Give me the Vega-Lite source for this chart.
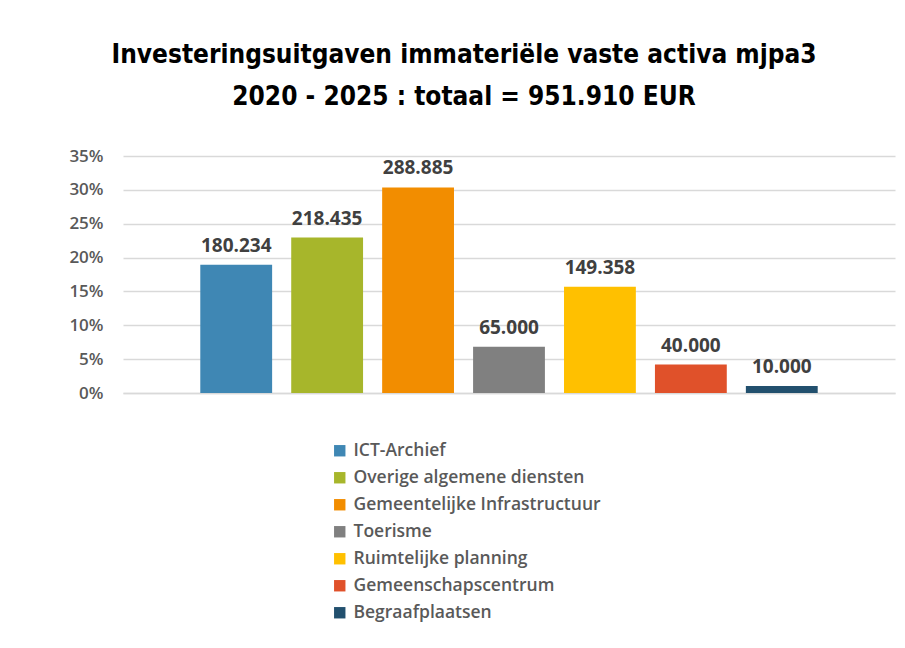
{
  "$schema": "https://vega.github.io/schema/vega-lite/v6.json",
  "width": 772,
  "height": 237,
  "autosize": {"type": "none"},
  "padding": {"left": 123, "top": 156, "right": 10, "bottom": 255},
  "background": "white",
  "config": {
    "locale": {"number": {"decimal": ",", "thousands": ".", "grouping": [3], "currency": ["€", ""]}},
    "view": {"stroke": null},
    "font": "Open Sans"
  },
  "title": {
    "text": ["Investeringsuitgaven immateriële vaste activa mjpa3", "2020 - 2025 : totaal = 951.910 EUR"],
    "font": "DejaVu Sans Condensed, Roboto Condensed, Roboto",
    "fontSize": 26,
    "fontWeight": "bold",
    "color": "#000000",
    "lineHeight": 42,
    "anchor": "middle",
    "dx": -45,
    "offset": 37
  },
  "data": {
    "values": [
      {"categorie": "ICT-Archief", "bedrag": 180234, "aandeel": 0.1893},
      {"categorie": "Overige algemene diensten", "bedrag": 218435, "aandeel": 0.2295},
      {"categorie": "Gemeentelijke Infrastructuur", "bedrag": 288885, "aandeel": 0.3035},
      {"categorie": "Toerisme", "bedrag": 65000, "aandeel": 0.0683},
      {"categorie": "Ruimtelijke planning", "bedrag": 149358, "aandeel": 0.1569},
      {"categorie": "Gemeenschapscentrum", "bedrag": 40000, "aandeel": 0.0420},
      {"categorie": "Begraafplaatsen", "bedrag": 10000, "aandeel": 0.0105}
    ]
  },
  "encoding": {
    "x": {
      "field": "categorie",
      "type": "nominal",
      "sort": null,
      "scale": {"paddingInner": 0.21, "paddingOuter": 0.85},
      "axis": {"title": null, "labels": false, "ticks": false, "domainColor": "#D9D9D9", "domainWidth": 1.5}
    },
    "y": {
      "field": "aandeel",
      "type": "quantitative",
      "scale": {"domain": [0, 0.35], "nice": false},
      "axis": {
        "title": null,
        "format": ".0%",
        "values": [0, 0.05, 0.1, 0.15, 0.2, 0.25, 0.3, 0.35],
        "domain": false,
        "ticks": false,
        "gridColor": "#D9D9D9",
        "gridWidth": 1.5,
        "labelFontSize": 17,
        "labelFontWeight": 600,
        "labelColor": "#595959",
        "labelPadding": 20,
        "labelFont": "Open Sans"
      }
    }
  },
  "layer": [
    {
      "mark": {"type": "bar"},
      "encoding": {
        "color": {
          "field": "categorie",
          "type": "nominal",
          "sort": null,
          "scale": {
            "domain": ["ICT-Archief", "Overige algemene diensten", "Gemeentelijke Infrastructuur", "Toerisme", "Ruimtelijke planning", "Gemeenschapscentrum", "Begraafplaatsen"],
            "range": ["#3F87B4", "#A7B62B", "#F28D00", "#808080", "#FFC000", "#E0512A", "#22506E"]
          },
          "legend": {
            "title": null,
            "orient": "none",
            "legendX": 208,
            "legendY": 286,
            "symbolType": "square",
            "symbolSize": 130,
            "symbolStrokeWidth": 0,
            "labelFontSize": 17.5,
            "labelFontWeight": 600,
            "labelColor": "#595959",
            "labelFont": "Open Sans",
            "labelOffset": 5,
            "rowPadding": 8,
            "labelLimit": 400
          }
        }
      }
    },
    {
      "mark": {"type": "text", "baseline": "bottom", "dy": -9, "fontSize": 19, "fontWeight": "bold", "color": "#404040", "font": "Open Sans"},
      "encoding": {
        "text": {"field": "bedrag", "type": "quantitative", "format": ",d"}
      }
    }
  ]
}
